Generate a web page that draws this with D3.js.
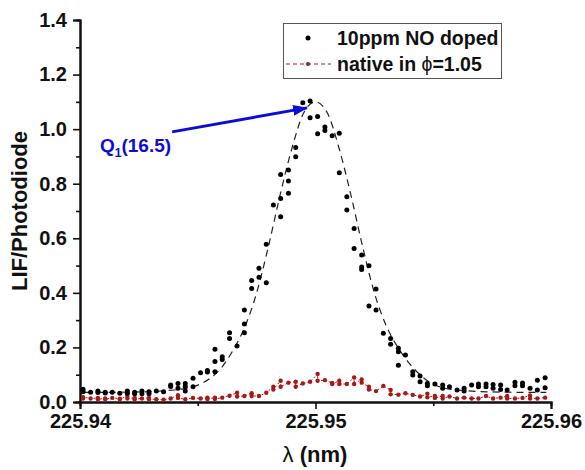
<!DOCTYPE html>
<html>
<head>
<meta charset="utf-8">
<title>LIF spectrum</title>
<script src="https://cdn.jsdelivr.net/npm/d3@7"></script>
<style>
  body { margin: 0; background: #fff; }
  text { font-family: "Liberation Sans", Arial, sans-serif; font-weight: bold; }
</style>
</head>
<body>
<div id="chart"></div>
<script>
// 10 ppm NO doped flame (two scans)
var dopedLambda = [
  225.94013, 225.94013, 225.94045, 225.94076, 225.94076, 225.94107, 225.94107, 225.94137,
  225.94169, 225.94201, 225.94201, 225.94232, 225.94232, 225.94263, 225.94263, 225.94293,
  225.94293, 225.94324, 225.94355, 225.94385, 225.94385, 225.94416, 225.94416, 225.94447,
  225.94447, 225.94447, 225.94480, 225.94480, 225.94512, 225.94541, 225.94541, 225.94573,
  225.94573, 225.94573, 225.94604, 225.94604, 225.94635, 225.94635, 225.94667, 225.94698,
  225.94698, 225.94698, 225.94729, 225.94729, 225.94760, 225.94760, 225.94791, 225.94791,
  225.94821, 225.94852, 225.94852, 225.94852, 225.94885, 225.94885, 225.94885, 225.94916,
  225.94916, 225.94946, 225.94977, 225.94977, 225.95009, 225.95009, 225.95040, 225.95040,
  225.95071, 225.95101, 225.95101, 225.95133, 225.95133, 225.95164, 225.95164, 225.95196,
  225.95196, 225.95196, 225.95227, 225.95227, 225.95257, 225.95257, 225.95288, 225.95319,
  225.95319, 225.95352, 225.95352, 225.95352, 225.95382, 225.95413, 225.95413, 225.95444,
  225.95444, 225.95475, 225.95475, 225.95507, 225.95540, 225.95540, 225.95569, 225.95601,
  225.95631, 225.95631, 225.95663, 225.95692, 225.95692, 225.95724, 225.95724, 225.95754,
  225.95754, 225.95786, 225.95786, 225.95814, 225.95847, 225.95847, 225.95879, 225.95879,
  225.95911, 225.95942, 225.95942, 225.95975, 225.95975
];
var dopedSignal = [
  0.047, 0.038, 0.036, 0.040, 0.035, 0.036, 0.033, 0.036,
  0.032, 0.040, 0.032, 0.036, 0.030, 0.040, 0.030, 0.038,
  0.030, 0.040, 0.038, 0.062, 0.057, 0.068, 0.050, 0.068,
  0.057, 0.040, 0.087, 0.056, 0.107, 0.115, 0.110, 0.193,
  0.148, 0.111, 0.166, 0.156, 0.254, 0.233, 0.205, 0.337,
  0.286, 0.254, 0.445, 0.416, 0.490, 0.457, 0.437, 0.578,
  0.722, 0.679, 0.746, 0.834, 0.850, 0.810, 0.765, 0.933,
  0.899, 1.097, 1.103, 1.042, 1.046, 0.983, 1.008, 0.995,
  0.976, 0.985, 0.840, 0.752, 0.704, 0.636, 0.563, 0.539,
  0.495, 0.486, 0.499, 0.352, 0.414, 0.337, 0.252, 0.233,
  0.212, 0.197, 0.184, 0.135, 0.172, 0.111, 0.099, 0.095,
  0.074, 0.068, 0.060, 0.066, 0.062, 0.050, 0.056, 0.044,
  0.050, 0.040, 0.062, 0.066, 0.056, 0.066, 0.056, 0.064,
  0.050, 0.062, 0.046, 0.044, 0.072, 0.060, 0.070, 0.060,
  0.050, 0.080, 0.044, 0.089, 0.052
];

// native NO in phi=1.05 flame
var nativeLambda = [
  225.94013, 225.94013, 225.94045, 225.94076, 225.94076, 225.94107, 225.94107, 225.94137,
  225.94169, 225.94169, 225.94201, 225.94201, 225.94232, 225.94232, 225.94263, 225.94293,
  225.94293, 225.94324, 225.94355, 225.94385, 225.94416, 225.94416, 225.94447, 225.94480,
  225.94512, 225.94541, 225.94541, 225.94573, 225.94573, 225.94604, 225.94635, 225.94667,
  225.94667, 225.94698, 225.94729, 225.94729, 225.94760, 225.94791, 225.94821, 225.94821,
  225.94852, 225.94852, 225.94885, 225.94916, 225.94916, 225.94946, 225.94977, 225.95009,
  225.95009, 225.95040, 225.95071, 225.95071, 225.95101, 225.95101, 225.95133, 225.95164,
  225.95164, 225.95196, 225.95196, 225.95227, 225.95227, 225.95257, 225.95288, 225.95319,
  225.95319, 225.95352, 225.95382, 225.95413, 225.95444, 225.95475, 225.95475, 225.95507,
  225.95507, 225.95540, 225.95540, 225.95569, 225.95601, 225.95631, 225.95663, 225.95692,
  225.95724, 225.95754, 225.95786, 225.95814, 225.95814, 225.95847, 225.95879, 225.95911,
  225.95911, 225.95942, 225.95975
];
var nativeSignal = [
  0.013, 0.018, 0.013, 0.015, 0.010, 0.013, 0.010, 0.015,
  0.012, 0.010, 0.022, 0.013, 0.015, 0.010, 0.013, 0.015,
  0.010, 0.010, 0.008, 0.013, 0.025, 0.015, 0.010, 0.015,
  0.013, 0.016, 0.011, 0.016, 0.011, 0.016, 0.023, 0.034,
  0.020, 0.022, 0.032, 0.022, 0.022, 0.034, 0.056, 0.046,
  0.078, 0.056, 0.071, 0.074, 0.056, 0.068, 0.074, 0.103,
  0.078, 0.080, 0.070, 0.066, 0.078, 0.066, 0.066, 0.090,
  0.066, 0.083, 0.071, 0.056, 0.046, 0.040, 0.059, 0.044,
  0.028, 0.027, 0.032, 0.026, 0.020, 0.030, 0.017, 0.022,
  0.015, 0.022, 0.013, 0.020, 0.013, 0.016, 0.013, 0.013,
  0.022, 0.013, 0.016, 0.022, 0.013, 0.013, 0.015, 0.024,
  0.013, 0.013, 0.016
];

// dashed fit through the doped data
var fitLambda = [
  225.9402, 225.9420, 225.9440, 225.9450, 225.9455, 225.9460, 225.9465, 225.9470,
  225.9475, 225.9480, 225.9485, 225.9490, 225.9495, 225.9500, 225.9505, 225.9510,
  225.9515, 225.9520, 225.9525, 225.9530, 225.9535, 225.9540, 225.9545, 225.9550,
  225.9560, 225.9580, 225.9598
];
var fitSignal = [
  0.035, 0.036, 0.044, 0.062, 0.085, 0.125, 0.190, 0.275,
  0.400, 0.570, 0.760, 0.930, 1.060, 1.100, 1.060, 0.930,
  0.760, 0.570, 0.400, 0.280, 0.200, 0.140, 0.095, 0.065,
  0.044, 0.036, 0.035
];

var yTicks = [0, 0.2, 0.4, 0.6, 0.8, 1.0, 1.2, 1.4];
var yMinor = [0.1, 0.3, 0.5, 0.7, 0.9, 1.1, 1.3];
var xTicks = [225.94, 225.95, 225.96];
var xMinor = [225.945, 225.955];
var legendLabels = ["10ppm NO doped", "native in "];

var width = 585, height = 470;
var blue = "#0c0cd6", red = "#a81818";

var svg = d3.select("#chart").append("svg")
  .attr("width", width)
  .attr("height", height);

var x = d3.scaleLinear().domain([225.94, 225.96]).range([80, 551]);
var y = d3.scaleLinear().domain([0, 1.4]).range([402, 20]);

// axes
var yAxis = svg.append("g")
  .attr("transform", "translate(80,0)")
  .call(d3.axisLeft(y).tickValues(yTicks).tickFormat(d3.format(".1f")).tickSize(7).tickPadding(6));
svg.append("g")
  .attr("transform", "translate(80,0)")
  .call(d3.axisLeft(y).tickValues(yMinor).tickFormat("").tickSize(4));

var xAxis = svg.append("g")
  .attr("transform", "translate(0,402)")
  .call(d3.axisBottom(x).tickValues(xTicks).tickFormat(d3.format(".2f")).tickSize(7).tickPadding(5));
svg.append("g")
  .attr("transform", "translate(0,402)")
  .call(d3.axisBottom(x).tickValues(xMinor).tickFormat("").tickSize(4));

svg.selectAll(".domain").attr("stroke", "#111").attr("stroke-width", 2);
svg.selectAll(".tick line").attr("stroke", "#111").attr("stroke-width", 1.6);
yAxis.selectAll(".tick text").attr("font-size", 20).attr("fill", "#111")
  .attr("font-family", "Liberation Sans, Arial, sans-serif").attr("font-weight", "bold");
xAxis.selectAll(".tick text").attr("font-size", 20).attr("fill", "#111")
  .attr("font-family", "Liberation Sans, Arial, sans-serif").attr("font-weight", "bold");

// axis titles
svg.append("text")
  .attr("transform", "translate(27,211) rotate(-90)")
  .attr("text-anchor", "middle")
  .attr("font-size", 22)
  .attr("fill", "#111")
  .text("LIF/Photodiode");

var xt = svg.append("text")
  .attr("x", 315).attr("y", 462)
  .attr("text-anchor", "middle")
  .attr("font-size", 22)
  .attr("fill", "#111");
xt.append("tspan").attr("font-weight", "normal").text("λ");
xt.append("tspan").text(" (nm)");

// fit line
var line = d3.line()
  .x(function(d) { return x(d[0]); })
  .y(function(d) { return y(d[1]); })
  .curve(d3.curveMonotoneX);

svg.append("path")
  .datum(d3.zip(fitLambda, fitSignal))
  .attr("d", line)
  .attr("fill", "none")
  .attr("stroke", "#222")
  .attr("stroke-width", 1.2)
  .attr("stroke-dasharray", "7,5");

// native series: dotted red line + dots
var nativeData = d3.zip(nativeLambda, nativeSignal);
svg.append("path")
  .datum(nativeData)
  .attr("d", d3.line().x(function(d) { return x(d[0]); }).y(function(d) { return y(d[1]); }))
  .attr("fill", "none")
  .attr("stroke", red)
  .attr("stroke-width", 1)
  .attr("stroke-dasharray", "2,2");

svg.selectAll(".native")
  .data(nativeData)
  .enter()
  .append("circle")
  .attr("class", "native")
  .attr("cx", function(d) { return x(d[0]); })
  .attr("cy", function(d) { return y(d[1]); })
  .attr("r", 2.2)
  .attr("fill", red);

// doped series dots
svg.selectAll(".doped")
  .data(d3.zip(dopedLambda, dopedSignal))
  .enter()
  .append("circle")
  .attr("class", "doped")
  .attr("cx", function(d) { return x(d[0]); })
  .attr("cy", function(d) { return y(d[1]); })
  .attr("r", 2.5)
  .attr("fill", "#000");

// annotation arrow
svg.append("defs").append("marker")
  .attr("id", "head")
  .attr("markerUnits", "userSpaceOnUse")
  .attr("viewBox", "0 0 15 11")
  .attr("refX", 14).attr("refY", 5.5)
  .attr("markerWidth", 15).attr("markerHeight", 11)
  .attr("orient", "auto")
  .append("path")
  .attr("d", "M0,0 L15,5.5 L0,11 Z")
  .attr("fill", blue);

svg.append("line")
  .attr("x1", x(225.94391)).attr("y1", y(0.99))
  .attr("x2", x(225.94964)).attr("y2", y(1.078))
  .attr("stroke", blue)
  .attr("stroke-width", 3)
  .attr("marker-end", "url(#head)");

var q = svg.append("text")
  .attr("x", 100).attr("y", 152)
  .attr("font-size", 19)
  .attr("fill", blue);
q.append("tspan").text("Q");
q.append("tspan").attr("font-size", 12).attr("dy", 5).text("1");
q.append("tspan").attr("dy", -5).text("(16.5)");

// legend
var lg = svg.append("g");
lg.append("rect")
  .attr("x", 283.5).attr("y", 23.5)
  .attr("width", 218).attr("height", 55)
  .attr("fill", "#fff")
  .attr("stroke", "#555")
  .attr("stroke-width", 1);
lg.append("circle").attr("cx", 308).attr("cy", 38).attr("r", 2.5).attr("fill", "#000");
lg.append("line")
  .attr("x1", 286).attr("x2", 331).attr("y1", 64).attr("y2", 64)
  .attr("stroke", red).attr("stroke-width", 1).attr("stroke-dasharray", "4,3");
lg.append("circle").attr("cx", 308).attr("cy", 64).attr("r", 2).attr("fill", red);
lg.append("text")
  .attr("x", 337).attr("y", 45)
  .attr("font-size", 19.5).attr("fill", "#111")
  .text(legendLabels[0]);
var l2 = lg.append("text")
  .attr("x", 337).attr("y", 71)
  .attr("font-size", 19.5).attr("fill", "#111");
l2.append("tspan").text(legendLabels[1]);
l2.append("tspan").attr("font-weight", "normal").text("ϕ");
l2.append("tspan").text("=1.05");
</script>
</body>
</html>
